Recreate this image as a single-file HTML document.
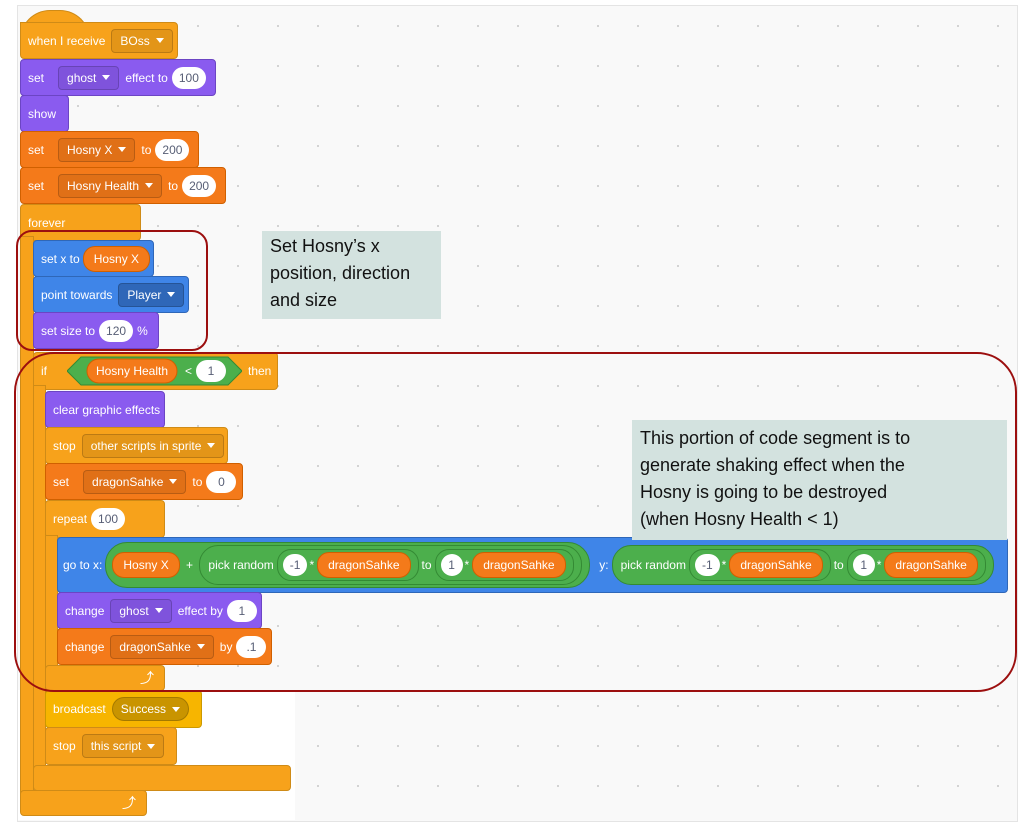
<!DOCTYPE html>
<html><head><style>
body{margin:0;width:1024px;height:826px;background:#fff;position:relative;overflow:hidden;font-family:"Liberation Sans",sans-serif}
.bg{position:absolute;left:17px;top:5px;width:999px;height:815px;background-color:#f9f9f9;background-image:radial-gradient(#d0d0d0 1px,transparent 1.2px);background-size:40px 40px;border:1px solid #e4e4e4}
.b{position:absolute;box-sizing:border-box;color:#fff;font-size:12px;display:flex;align-items:center;padding-left:7px;border-radius:4px;white-space:nowrap}
.ev{background:#F7A21B;border:1px solid #cf8b17}
.ctl{background:#F7A21B;border:1px solid #cf8b17}
.lk{background:#8A5BEF;border:1px solid #6c45c4}
.vr{background:#F47A1A;border:1px solid #d06000}
.mo{background:#3F85E8;border:1px solid #2f67b8}
.yb{background:#F7B500;border:1px solid #cc9900}
.dd{display:inline-flex;align-items:center;height:22px;padding:0 8px;border-radius:4px;margin:0 6px;border:1px solid rgba(0,0,0,.18);background:rgba(0,0,0,.08)}
.dd:after{content:"";border-left:4px solid transparent;border-right:4px solid transparent;border-top:5px solid #fff;margin-left:6px}
.n{display:inline-flex;align-items:center;justify-content:center;height:22px;min-width:22px;padding:0 7px;box-sizing:border-box;background:#fff;color:#575e75;border-radius:11px;margin:0 4px}
.rp{display:inline-flex;align-items:center;height:24px;padding:0 10px;border-radius:12px;background:#F47A1A;border:1px solid #d06000;margin:0 3px}
.gr{display:inline-flex;align-items:center;height:28px;padding:0 4px 0 8px;border-radius:14px;background:#4CAF4C;border:1px solid #348a34;margin:0 3px}
.red{position:absolute;border:2px solid #9c0f0f;box-sizing:border-box}
.note{position:absolute;background:#d3e2df;color:#111;font-family:"Liberation Sans",sans-serif;font-size:18px;line-height:27px;padding:2px 8px;box-sizing:border-box;white-space:nowrap}
</style></head><body>
<div class="bg"></div>
<div style="position:absolute;left:18px;top:690px;width:277px;height:130px;background:#fff"></div>
<div class="b ev" style="left:20px;top:10px;width:70px;height:30px;border-radius:35px 35px 0 0;border-bottom:none"></div>
<div class="b ev" style="left:20px;top:22px;width:158px;height:37px;border-top-left-radius:0">when I receive<span class="dd">BOss</span></div>
<div class="b lk" style="left:20px;top:59px;width:196px;height:37px">set<span class="dd" style="margin-left:14px">ghost</span>effect to<span class="n">100</span></div>
<div class="b lk" style="left:20px;top:95px;width:49px;height:37px">show</div>
<div class="b vr" style="left:20px;top:131px;width:179px;height:37px">set<span class="dd" style="margin-left:14px">Hosny X</span>to<span class="n">200</span></div>
<div class="b vr" style="left:20px;top:167px;width:206px;height:37px">set<span class="dd" style="margin-left:14px">Hosny Health</span>to<span class="n">200</span></div>
<div class="b ctl" style="left:20px;top:204px;width:121px;height:37px">forever</div>
<div class="b ctl" style="left:20px;top:236px;width:14px;height:560px;border-radius:0"></div>
<div class="b ctl" style="left:20px;top:790px;width:127px;height:26px;justify-content:flex-end;padding-right:10px;font-size:14px">⤴</div>
<div class="b mo" style="left:33px;top:240px;width:121px;height:37px">set x to<span class="rp">Hosny X</span></div>
<div class="b mo" style="left:33px;top:276px;width:156px;height:37px">point towards<span class="dd" style="background:#2f67b8">Player</span></div>
<div class="b lk" style="left:33px;top:312px;width:126px;height:37px">set size to<span class="n">120</span>%</div>
<div class="b ctl" style="left:33px;top:352px;width:245px;height:38px">if<svg width="175" height="30" style="margin-left:20px"><polygon points="0,15 14,1 161,1 175,15 161,29 14,29" fill="#4CAF4C" stroke="#348a34"/><rect x="20" y="3" width="90" height="24" rx="12" fill="#F47A1A" stroke="#d06000"/><text x="65" y="19" fill="#fff" font-size="12" text-anchor="middle" font-family="Liberation Sans">Hosny Health</text><text x="118" y="19" fill="#fff" font-size="12" font-family="Liberation Sans">&lt;</text><rect x="129" y="4" width="30" height="22" rx="11" fill="#fff"/><text x="144" y="19" fill="#575e75" font-size="12" text-anchor="middle" font-family="Liberation Sans">1</text></svg><span style="margin-left:6px">then</span></div>
<div class="b ctl" style="left:33px;top:385px;width:13px;height:385px;border-radius:0"></div>
<div class="b ctl" style="left:33px;top:765px;width:258px;height:26px"></div>
<div class="b lk" style="left:45px;top:391px;width:120px;height:37px">clear graphic effects</div>
<div class="b ctl" style="left:45px;top:427px;width:183px;height:37px">stop<span class="dd">other scripts in sprite</span></div>
<div class="b vr" style="left:45px;top:463px;width:198px;height:37px">set<span class="dd" style="margin-left:14px">dragonSahke</span>to<span class="n" style="width:30px">0</span></div>
<div class="b ctl" style="left:45px;top:500px;width:120px;height:38px">repeat<span class="n" style="width:34px">100</span></div>
<div class="b ctl" style="left:45px;top:535px;width:13px;height:135px;border-radius:0"></div>
<div class="b ctl" style="left:45px;top:665px;width:120px;height:26px;justify-content:flex-end;padding-right:10px;font-size:14px">⤴</div>
<div class="b mo" style="left:57px;top:537px;width:951px;height:56px;padding-left:5px">go to x:<span class="gr" style="padding-left:3px;height:44px;border-radius:22px"><span class="rp">Hosny X</span>&nbsp;+&nbsp;<span class="gr" style="height:38px;border-radius:19px">pick random<span class="gr" style="height:30px;padding-left:3px"><span class="n" style="margin:0 2px">-1</span>*<span class="rp">dragonSahke</span></span>to<span class="gr" style="height:30px;padding-left:3px"><span class="n" style="margin:0 2px">1</span>*<span class="rp">dragonSahke</span></span></span></span>&nbsp;&nbsp;y:<span class="gr" style="height:38px;border-radius:19px">pick random<span class="gr" style="height:30px;padding-left:3px"><span class="n" style="margin:0 2px">-1</span>*<span class="rp">dragonSahke</span></span>to<span class="gr" style="height:30px;padding-left:3px"><span class="n" style="margin:0 2px">1</span>*<span class="rp">dragonSahke</span></span></span></div>
<div class="b lk" style="left:57px;top:592px;width:205px;height:37px">change<span class="dd">ghost</span>effect by<span class="n" style="width:30px">1</span></div>
<div class="b vr" style="left:57px;top:628px;width:215px;height:37px">change<span class="dd">dragonSahke</span>by<span class="n" style="width:30px">.1</span></div>
<div class="b yb" style="left:45px;top:690px;width:157px;height:38px">broadcast<span class="dd" style="border-radius:12px;background:#c99400">Success</span></div>
<div class="b ctl" style="left:45px;top:727px;width:132px;height:38px">stop<span class="dd">this script</span></div>
<div class="red" style="left:16px;top:230px;width:192px;height:121px;border-radius:16px"></div>
<div class="red" style="left:14px;top:352px;width:1003px;height:340px;border-radius:40px"></div>
<div class="note" style="left:262px;top:231px;width:179px;height:88px">Set Hosny’s x<br>position, direction<br>and size</div>
<div class="note" style="left:632px;top:420px;width:375px;height:120px;padding-top:5px">This portion of code segment is to<br>generate shaking effect when the<br>Hosny is going to be destroyed<br>(when Hosny Health &lt; 1)</div>
</body></html>
